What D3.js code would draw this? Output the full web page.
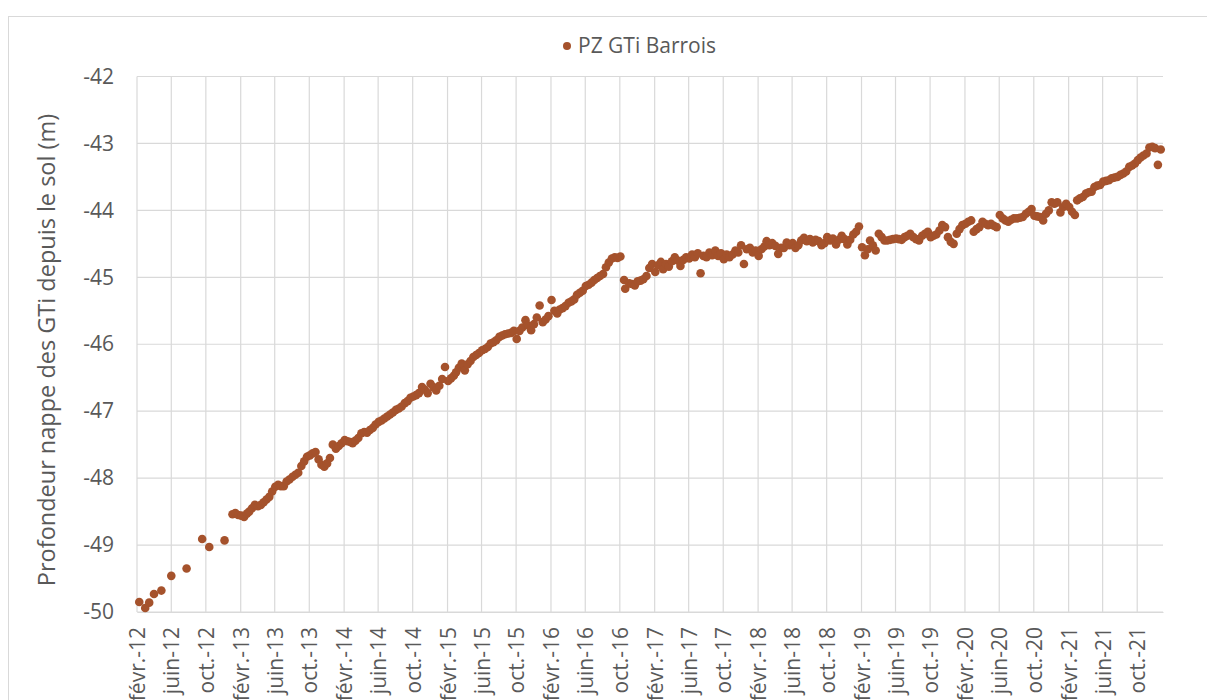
<!DOCTYPE html>
<html>
<head>
<meta charset="utf-8">
<script src="https://cdn.jsdelivr.net/npm/d3@7"></script>
<style>
  body { margin: 0; background: #fff; }
  text { font-family: "Open Sans", sans-serif; fill: #595959; }
</style>
</head>
<body>
<div class="chart"></div>
<script>
// measurement dates and groundwater level (m, negative = below ground)
var dates = [
  "2012-02-09","2012-03-01","2012-03-15","2012-04-01","2012-04-27","2012-06-01","2012-07-25","2012-09-18","2012-10-13","2012-12-06",
  "2013-01-03","2013-01-13","2013-01-23","2013-02-03","2013-02-13","2013-02-23","2013-03-03","2013-03-13","2013-03-23","2013-04-03","2013-04-13","2013-04-23",
  "2013-05-03","2013-05-13","2013-05-23","2013-06-03","2013-06-13","2013-06-23","2013-07-03","2013-07-13","2013-07-23","2013-08-03","2013-08-13","2013-08-23",
  "2013-09-03","2013-09-13","2013-09-23","2013-10-03","2013-10-13","2013-10-23","2013-11-03","2013-11-13","2013-11-23","2013-12-03","2013-12-13","2013-12-23",
  "2014-01-03","2014-01-13","2014-01-23","2014-02-03","2014-02-13","2014-02-23","2014-03-03","2014-03-13","2014-03-23","2014-04-03","2014-04-13","2014-04-23",
  "2014-05-03","2014-05-13","2014-05-23","2014-06-03","2014-06-13","2014-06-23","2014-07-03","2014-07-13","2014-07-23","2014-08-03","2014-08-13","2014-08-23",
  "2014-09-03","2014-09-13","2014-09-23","2014-10-03","2014-10-13","2014-10-23","2014-11-03","2014-11-13","2014-11-23","2014-12-03","2014-12-13","2014-12-23",
  "2015-01-03","2015-01-13","2015-01-23","2015-02-03","2015-02-13","2015-02-23","2015-03-03","2015-03-13","2015-03-23","2015-04-03","2015-04-13","2015-04-23",
  "2015-05-03","2015-05-13","2015-05-23","2015-06-03","2015-06-13","2015-06-23","2015-07-03","2015-07-13","2015-07-23","2015-08-03","2015-08-13","2015-08-23",
  "2015-09-03","2015-09-13","2015-09-23","2015-10-03","2015-10-13","2015-10-23","2015-11-03","2015-11-13","2015-11-23","2015-12-03","2015-12-13","2015-12-23",
  "2016-01-03","2016-01-13","2016-01-23","2016-02-03","2016-02-13","2016-02-23","2016-03-03","2016-03-13","2016-03-23","2016-04-03","2016-04-13","2016-04-23",
  "2016-05-03","2016-05-13","2016-05-23","2016-06-03","2016-06-13","2016-06-23","2016-07-03","2016-07-13","2016-07-23","2016-08-03","2016-08-13","2016-08-23",
  "2016-09-03","2016-09-13","2016-09-23","2016-10-03","2016-10-16","2016-10-20","2016-11-03","2016-11-13","2016-11-23","2016-12-03","2016-12-13","2016-12-23",
  "2017-01-03","2017-01-13","2017-01-23","2017-02-03","2017-02-13","2017-02-23","2017-03-03","2017-03-13","2017-03-23","2017-04-03","2017-04-13","2017-04-23",
  "2017-05-03","2017-05-13","2017-05-23","2017-06-03","2017-06-13","2017-06-23","2017-07-03","2017-07-13","2017-07-23","2017-08-03","2017-08-13","2017-08-23",
  "2017-09-03","2017-09-13","2017-09-23","2017-10-03","2017-10-13","2017-10-23","2017-11-03","2017-11-13","2017-11-23","2017-12-03","2017-12-13","2017-12-23",
  "2018-01-03","2018-01-13","2018-01-23","2018-02-03","2018-02-13","2018-02-23","2018-03-03","2018-03-13","2018-03-23","2018-04-03","2018-04-13","2018-04-23",
  "2018-05-03","2018-05-13","2018-05-23","2018-06-03","2018-06-13","2018-06-23","2018-07-03","2018-07-13","2018-07-23","2018-08-03","2018-08-13","2018-08-23",
  "2018-09-03","2018-09-13","2018-09-23","2018-10-03","2018-10-13","2018-10-23","2018-11-03","2018-11-13","2018-11-23","2018-12-03","2018-12-13","2018-12-23",
  "2019-01-03","2019-01-13","2019-01-23","2019-02-03","2019-02-13","2019-02-23","2019-03-03","2019-03-13","2019-03-23","2019-04-03","2019-04-13","2019-04-23",
  "2019-05-03","2019-05-13","2019-05-23","2019-06-03","2019-06-13","2019-06-23","2019-07-03","2019-07-13","2019-07-23","2019-08-03","2019-08-13","2019-08-23",
  "2019-09-03","2019-09-13","2019-09-23","2019-10-03","2019-10-13","2019-10-23","2019-11-03","2019-11-13","2019-11-23","2019-12-03","2019-12-13","2019-12-23",
  "2020-01-03","2020-01-13","2020-01-23","2020-02-03","2020-02-13","2020-02-23","2020-03-03","2020-03-13","2020-03-23","2020-04-03","2020-04-13","2020-04-23",
  "2020-05-03","2020-05-13","2020-05-23","2020-06-03","2020-06-13","2020-06-23","2020-07-03","2020-07-13","2020-07-23","2020-08-03","2020-08-13","2020-08-23",
  "2020-09-03","2020-09-13","2020-09-23","2020-10-03","2020-10-13","2020-10-23","2020-11-03","2020-11-13","2020-11-23","2020-12-03","2020-12-13","2020-12-23",
  "2021-01-03","2021-01-13","2021-01-23","2021-02-03","2021-02-13","2021-02-23","2021-03-03","2021-03-13","2021-03-23","2021-04-03","2021-04-13","2021-04-23",
  "2021-05-03","2021-05-13","2021-05-23","2021-06-03","2021-06-13","2021-06-23","2021-07-03","2021-07-13","2021-07-23","2021-08-03","2021-08-13","2021-08-23",
  "2021-09-03","2021-09-13","2021-09-23","2021-10-03","2021-10-13","2021-10-23","2021-11-03","2021-11-13","2021-11-23","2021-12-03","2021-12-13","2021-12-23"
];

var levels = [
  -49.85,-49.94,-49.86,-49.73,-49.68,-49.46,-49.35,-48.91,-49.03,-48.93,
  -48.54,-48.52,-48.55,-48.56,-48.58,-48.53,-48.50,-48.45,-48.40,-48.42,-48.40,-48.36,
  -48.32,-48.28,-48.20,-48.13,-48.10,-48.12,-48.12,-48.05,-48.02,-47.98,-47.95,-47.92,
  -47.82,-47.75,-47.68,-47.66,-47.63,-47.61,-47.72,-47.80,-47.83,-47.78,-47.70,-47.50,
  -47.56,-47.52,-47.48,-47.43,-47.45,-47.46,-47.48,-47.44,-47.40,-47.33,-47.31,-47.32,
  -47.28,-47.25,-47.20,-47.16,-47.14,-47.11,-47.08,-47.05,-47.02,-46.98,-46.96,-46.93,
  -46.88,-46.85,-46.80,-46.78,-46.76,-46.73,-46.64,-46.68,-46.73,-46.59,-46.64,-46.69,
  -46.62,-46.52,-46.34,-46.55,-46.51,-46.47,-46.42,-46.35,-46.29,-46.39,-46.30,-46.25,
  -46.19,-46.16,-46.13,-46.09,-46.07,-46.04,-45.99,-45.97,-45.94,-45.89,-45.87,-45.85,
  -45.84,-45.83,-45.80,-45.92,-45.80,-45.75,-45.64,-45.72,-45.79,-45.70,-45.60,-45.42,
  -45.67,-45.63,-45.58,-45.34,-45.50,-45.54,-45.48,-45.46,-45.43,-45.38,-45.36,-45.33,
  -45.26,-45.23,-45.20,-45.13,-45.11,-45.08,-45.04,-45.01,-44.98,-44.95,-44.85,-44.78,
  -44.72,-44.70,-44.71,-44.69,-45.04,-45.17,-45.09,-45.10,-45.12,-45.06,-45.05,-45.03,
  -44.98,-44.86,-44.80,-44.92,-44.82,-44.77,-44.88,-44.80,-44.84,-44.76,-44.70,-44.75,
  -44.83,-44.74,-44.70,-44.72,-44.66,-44.70,-44.64,-44.94,-44.68,-44.70,-44.63,-44.67,
  -44.60,-44.68,-44.64,-44.73,-44.66,-44.70,-44.66,-44.60,-44.63,-44.52,-44.80,-44.58,
  -44.56,-44.63,-44.60,-44.68,-44.58,-44.54,-44.46,-44.52,-44.49,-44.53,-44.65,-44.56,
  -44.56,-44.48,-44.52,-44.49,-44.56,-44.52,-44.45,-44.41,-44.46,-44.43,-44.48,-44.44,
  -44.46,-44.52,-44.49,-44.40,-44.45,-44.42,-44.51,-44.44,-44.38,-44.43,-44.51,-44.44,
  -44.36,-44.32,-44.24,-44.55,-44.67,-44.58,-44.45,-44.52,-44.60,-44.35,-44.40,-44.45,
  -44.45,-44.44,-44.43,-44.42,-44.43,-44.44,-44.40,-44.38,-44.35,-44.40,-44.43,-44.45,
  -44.38,-44.35,-44.32,-44.40,-44.38,-44.36,-44.30,-44.22,-44.25,-44.40,-44.47,-44.50,
  -44.35,-44.28,-44.22,-44.20,-44.17,-44.15,-44.32,-44.28,-44.25,-44.17,-44.20,-44.22,
  -44.20,-44.23,-44.25,-44.07,-44.12,-44.15,-44.17,-44.14,-44.12,-44.12,-44.11,-44.10,
  -44.05,-44.02,-43.98,-44.08,-44.09,-44.10,-44.15,-44.05,-44.00,-43.88,-43.90,-43.88,
  -44.03,-43.95,-43.90,-43.95,-44.02,-44.07,-43.85,-43.82,-43.80,-43.75,-43.73,-43.72,
  -43.65,-43.63,-43.62,-43.57,-43.56,-43.55,-43.52,-43.51,-43.50,-43.47,-43.45,-43.42,
  -43.35,-43.33,-43.30,-43.25,-43.21,-43.18,-43.15,-43.06,-43.05,-43.07,-43.32,-43.09
];

var monthNames = ["janv.","févr.","mars","avr.","mai","juin","juil.","août","sept.","oct.","nov.","déc."];
var yTicks = [-50, -49, -48, -47, -46, -45, -44, -43, -42];
var seriesName = "PZ GTi Barrois";
var yTitle = "Profondeur nappe des GTi depuis le sol (m)";

const width = 1207, height = 700;
const margin = ({ top: 76.5, right: 44, bottom: 88, left: 137 });
const color = "#a5522c";

var svg = d3.select(".chart").append("svg")
    .attr("width", width)
    .attr("height", height);

// chart frame
svg.append("rect")
    .attr("x", 8.5).attr("y", 16.5)
    .attr("width", 1230).attr("height", 720)
    .attr("fill", "none")
    .attr("stroke", "#d9d9d9");

var parse = d3.utcParse("%Y-%m-%d");
var data = dates.map((d, i) => ({ date: parse(d), value: levels[i] }));

var x = d3.scaleUtc()
    .domain([parse("2012-02-01"), parse("2021-12-31")])
    .range([margin.left, width - margin.right]);

var y = d3.scaleLinear()
    .domain([-50, -42])
    .range([height - margin.bottom, margin.top]);

var xTicks = d3.utcMonth.range(parse("2012-02-01"), parse("2021-11-01"), 4);
var fmt = d => monthNames[d.getUTCMonth()] + "-" + d3.utcFormat("%y")(d);

// gridlines
var grid = svg.append("g").attr("stroke", "#d9d9d9").attr("stroke-width", 1.2);
grid.selectAll(".gx")
    .data(xTicks)
    .join("line")
    .attr("x1", d => x(d)).attr("x2", d => x(d))
    .attr("y1", y(-42)).attr("y2", y(-50));
grid.selectAll(".gy")
    .data(yTicks)
    .join("line")
    .attr("x1", x.range()[0]).attr("x2", x.range()[1])
    .attr("y1", d => y(d)).attr("y2", d => y(d));

// axes
var xAxis = svg.append("g")
    .attr("transform", `translate(0, ${y(-50)})`)
    .call(d3.axisBottom(x).tickValues(xTicks).tickFormat(fmt).tickSize(0));
xAxis.select(".domain").attr("stroke", "#d9d9d9").attr("stroke-width", 1.2);
xAxis.selectAll("text")
    .attr("transform", "rotate(-90)")
    .attr("text-anchor", "end")
    .attr("x", -15).attr("y", 0).attr("dy", "0.36em")
    .style("font-size", "21px").style("font-family", "Open Sans").attr("fill", "#595959");

var yAxis = svg.append("g")
    .attr("transform", `translate(${margin.left}, 0)`)
    .call(d3.axisLeft(y).tickValues(yTicks).tickFormat(d => String(d)).tickSize(0).tickPadding(23));
yAxis.select(".domain").remove();
yAxis.selectAll("text")
    .style("font-size", "21px").style("font-family", "Open Sans").attr("fill", "#595959");

svg.append("text")
    .attr("transform", `translate(47, 350) rotate(-90)`)
    .attr("text-anchor", "middle")
    .attr("dy", "0.35em")
    .style("font-size", "23.5px")
    .text(yTitle);

// legend
svg.append("circle").attr("cx", 567).attr("cy", 46).attr("r", 4).attr("fill", color);
svg.append("text")
    .attr("x", 578).attr("y", 46).attr("dy", "0.35em")
    .style("font-size", "21px")
    .text(seriesName);

// points
svg.append("g")
    .selectAll("circle")
    .data(data)
    .join("circle")
    .attr("cx", d => x(d.date))
    .attr("cy", d => y(d.value))
    .attr("r", 4.3)
    .attr("fill", color);
</script>
</body>
</html>
